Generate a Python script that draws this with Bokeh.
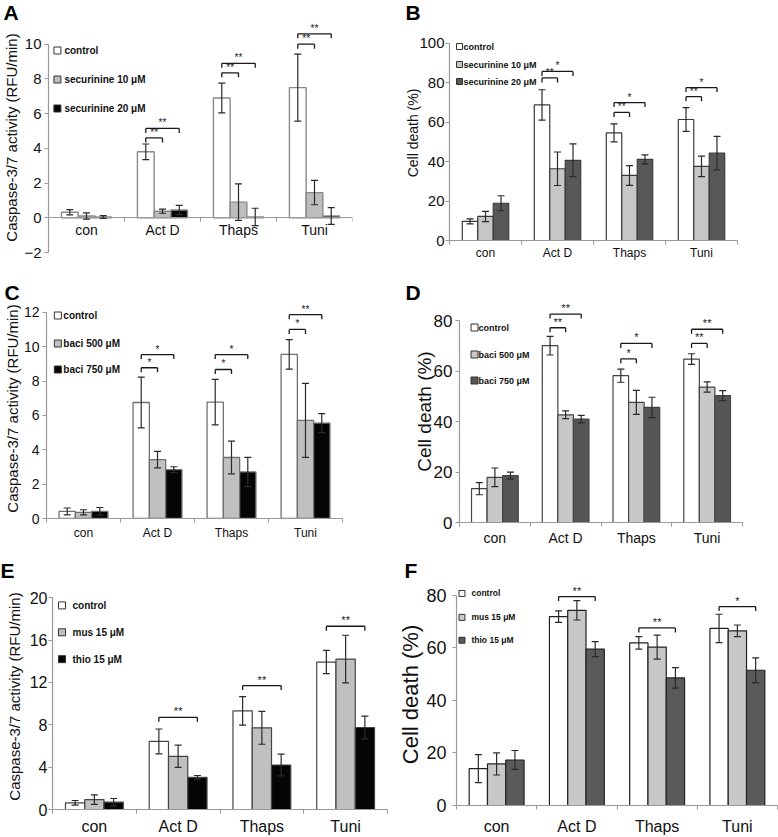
from bokeh.plotting import figure
from bokeh.models import Range1d, FixedTicker, Whisker, TeeHead, ColumnDataSource, Title
from bokeh.layouts import column, row
from bokeh.embed import file_html
from bokeh.resources import INLINE
from bokeh.core.properties import value

FONT = "Liberation Sans"

# ---------------- data ----------------
groups = ["con", "Act D", "Thaps", "Tuni"]

# Panel A : caspase-3/7, securinine
a_names = ["control", "securinine 10 μM", "securinine 20 μM"]
a_control = [0.32, 3.80, 6.90, 7.50]
a_control_err = [0.15, 0.45, 0.86, 1.93]
a_sec10 = [0.10, 0.38, 0.90, 1.45]
a_sec10_err = [0.18, 0.12, 1.05, 0.70]
a_sec20 = [0.05, 0.45, 0.05, 0.10]
a_sec20_err = [0.08, 0.27, 0.50, 0.48]
a_brackets = [(1, 1, 4.60, "**"), (1, 2, 5.15, "**"), (2, 1, 8.35, "**"),
              (2, 2, 8.90, "**"), (3, 1, 10.0, "**"), (3, 2, 10.6, "**")]
a_yticks = [-2, 0, 2, 4, 6, 8, 10]

# Panel B : cell death, securinine
b_names = ["control", "securinine 10 μM", "securinine 20 μM"]
b_control = [9.7, 68.8, 54.6, 61.4]
b_control_err = [1.3, 7.7, 4.6, 6.0]
b_sec10 = [12.2, 36.4, 33.0, 37.6]
b_sec10_err = [2.6, 8.5, 5.0, 5.2]
b_sec20 = [18.9, 40.7, 41.2, 44.3]
b_sec20_err = [3.8, 8.3, 2.3, 8.5]
b_brackets = [(1, 1, 82.5, "**"), (1, 2, 85.8, "*"), (2, 1, 65.0, "**"),
              (2, 2, 70.0, "*"), (3, 1, 73.0, "**"), (3, 2, 77.6, "*")]
b_yticks = [0, 20, 40, 60, 80, 100]

# Panel C : caspase-3/7, baci
c_names = ["control", "baci 500 μM", "baci 750 μM"]
c_control = [0.41, 6.75, 6.77, 9.55]
c_control_err = [0.20, 1.48, 1.32, 0.86]
c_baci500 = [0.36, 3.43, 3.55, 5.71]
c_baci500_err = [0.15, 0.48, 0.95, 2.15]
c_baci750 = [0.42, 2.84, 2.71, 5.55]
c_baci750_err = [0.22, 0.17, 0.85, 0.55]
c_brackets = [(1, 1, 8.77, "*"), (1, 2, 9.54, "*"), (2, 1, 8.67, "*"),
              (2, 2, 9.54, "*"), (3, 1, 11.0, "*"), (3, 2, 11.86, "**")]
c_yticks = [0, 2, 4, 6, 8, 10, 12]

# Panel D : cell death, baci
d_names = ["control", "baci 500 μM", "baci 750 μM"]
d_control = [13.4, 70.1, 58.2, 64.8]
d_control_err = [2.4, 3.7, 2.6, 2.1]
d_baci500 = [17.9, 42.7, 47.6, 53.7]
d_baci500_err = [3.7, 1.55, 4.75, 2.05]
d_baci750 = [18.6, 41.0, 45.6, 50.3]
d_baci750_err = [1.4, 1.5, 4.05, 1.95]
d_brackets = [(1, 1, 77.2, "**"), (1, 2, 82.6, "**"), (2, 1, 64.9, "*"),
              (2, 2, 71.0, "*"), (3, 1, 71.0, "**"), (3, 2, 76.6, "**")]
d_yticks = [0, 20, 40, 60, 80]

# Panel E : caspase-3/7, mus / thio
e_names = ["control", "mus 15 μM", "thio 15 μM"]
e_control = [0.63, 6.43, 9.31, 13.92]
e_control_err = [0.22, 1.17, 1.35, 1.10]
e_mus = [0.94, 5.02, 7.71, 14.2]
e_mus_err = [0.45, 1.05, 1.55, 2.25]
e_thio = [0.69, 3.04, 4.20, 7.74]
e_thio_err = [0.35, 0.17, 1.02, 1.07]
e_brackets = [(1, 2, 8.7, "**"), (2, 2, 11.7, "**"), (3, 2, 17.3, "**")]
e_yticks = [0, 4, 8, 12, 16, 20]

# Panel F : cell death, mus / thio
f_names = ["control", "mus 15 μM", "thio 15 μM"]
f_control = [14.0, 71.8, 61.8, 67.3]
f_control_err = [5.3, 2.2, 2.35, 5.4]
f_mus = [15.8, 74.2, 60.2, 66.4]
f_mus_err = [4.2, 3.7, 4.55, 2.2]
f_thio = [17.3, 59.4, 48.5, 51.4]
f_thio_err = [3.6, 2.85, 3.9, 4.7]
f_brackets = [(1, 2, 79.4, "**"), (2, 2, 67.5, "**"), (3, 2, 75.6, "*")]
f_yticks = [0, 20, 40, 60, 80]

CASP = "Caspase-3/7 activity (RFU/min)"
DEATH = "Cell death (%)"

# ---------------- layout / styling (page pixel coordinates) ----------------
panels = [
    dict(letter="A", box=(0, 0, 395, 280), frame=(45, 352, 22, 252), yr=(-2, 11.25),
         ybounds=(-2, 10), yticks=a_yticks, names=a_names,
         vals=[a_control, a_sec10, a_sec20], errs=[a_control_err, a_sec10_err, a_sec20_err],
         fills=["white", "#bdbdbd", "#050505"], outline="#8a8a8a", olw=1.4, w=0.22,
         brackets=a_brackets, xfix=0, ytick_fs=15, ytick_so=3, cat_fs=14, cat_so=0,
         ylabel=CASP, ylab_fs=15, ylab_so=1, leg_fs=10, sq=7,
         leg=(54, 61, [50, 79, 108]), star_fs=10, letter_pos=(0, 0)),
    dict(letter="B", box=(395, 0, 778, 280), frame=(449, 737, 39, 240), yr=(0, 102),
         ybounds=(0, 100), yticks=b_yticks, names=b_names,
         vals=[b_control, b_sec10, b_sec20], errs=[b_control_err, b_sec10_err, b_sec20_err],
         fills=["white", "#c6c6c6", "#585858"], outline="#3a3a3a", olw=1.2, w=0.215,
         brackets=b_brackets, xfix=None, ytick_fs=15, ytick_so=1, cat_fs=12, cat_so=1,
         ylabel=DEATH, ylab_fs=14, ylab_so=-5, leg_fs=9, sq=6,
         leg=(459, 463, [46, 64, 81]), star_fs=10, letter_pos=(405, 0)),
    dict(letter="C", box=(0, 280, 395, 558), frame=(42, 342, 298, 518), yr=(0, 12.8),
         ybounds=(0, 12), yticks=c_yticks, names=c_names,
         vals=[c_control, c_baci500, c_baci750], errs=[c_control_err, c_baci500_err, c_baci750_err],
         fills=["white", "#c0c0c0", "#050505"], outline="#707070", olw=1.3, w=0.22,
         brackets=c_brackets, xfix=None, ytick_fs=14, ytick_so=3, cat_fs=12, cat_so=3,
         ylabel=CASP, ylab_fs=15, ylab_so=0, leg_fs=10, sq=7,
         leg=(53.5, 59, [315, 343, 369]), star_fs=10, letter_pos=(0, 280)),
    dict(letter="D", box=(395, 280, 778, 558), frame=(459, 742, 300, 522), yr=(0, 88),
         ybounds=(0, 80), yticks=d_yticks, names=d_names,
         vals=[d_control, d_baci500, d_baci750], errs=[d_control_err, d_baci500_err, d_baci750_err],
         fills=["white", "#c8c8c8", "#555555"], outline="#444444", olw=1.2, w=0.22,
         brackets=d_brackets, xfix=None, ytick_fs=17, ytick_so=3, cat_fs=14, cat_so=3,
         ylabel=DEATH, ylab_fs=19, ylab_so=-4, leg_fs=9, sq=7,
         leg=(474, 478, [327, 354, 380]), star_fs=11, letter_pos=(405, 280)),
    dict(letter="E", box=(0, 558, 395, 837), frame=(52, 387, 594, 810), yr=(0, 20.3),
         ybounds=(0, 20), yticks=e_yticks, names=e_names,
         vals=[e_control, e_mus, e_thio], errs=[e_control_err, e_mus_err, e_thio_err],
         fills=["white", "#c0c0c0", "#050505"], outline="#444444", olw=1.2, w=0.23,
         brackets=e_brackets, xfix=None, ytick_fs=16, ytick_so=1, cat_fs=16, cat_so=4,
         ylabel=CASP, ylab_fs=15, ylab_so=4, leg_fs=10, sq=7,
         leg=(61.5, 72, [605, 632, 659]), star_fs=11, letter_pos=(0, 558)),
    dict(letter="F", box=(395, 558, 778, 837), frame=(455, 777, 584, 806), yr=(0, 84),
         ybounds=(0, 80), yticks=f_yticks, names=f_names,
         vals=[f_control, f_mus, f_thio], errs=[f_control_err, f_mus_err, f_thio_err],
         fills=["white", "#c8c8c8", "#5a5a5a"], outline="#222222", olw=1.2, w=0.228,
         brackets=f_brackets, xfix=None, ytick_fs=18, ytick_so=6, cat_fs=16, cat_so=8,
         ylabel=DEATH, ylab_fs=22, ylab_so=0, leg_fs=8.5, sq=6,
         leg=(460.5, 470, [593, 617, 640]), star_fs=11, letter_pos=(403, 558)),
]

AXIS_COL = "#9a9a9a"
ERR_COL = "#2a2a2a"
LETTER_H = 23.5  # approx. text box height of a 21px bold letter
LETTER_MAX_GAP = 25  # the letter title can reach at most this far above the frame


def make_panel(c):
    bx0, by0, bx1, by1 = c["box"]
    L, R, T0, B = c["frame"]
    y0, y1_0 = c["yr"]
    pxu = (B - T0) / (y1_0 - y0)  # pixels per y unit
    lx_pos, ltop = c["letter_pos"]
    # extend the (empty) top of the frame so the panel letter can sit at the top
    T = min(T0, ltop + LETTER_MAX_GAP)
    y1 = y1_0 + (T0 - T) / pxu
    n = len(groups)
    p = figure(width=bx1 - bx0, height=by1 - by0, output_backend="svg", toolbar_location=None,
               x_range=Range1d(0, n), y_range=Range1d(y0, y1),
               min_border_left=L - bx0, min_border_right=bx1 - R,
               min_border_top=T - by0, min_border_bottom=by1 - B)
    try:
        p.frame_align = False
    except Exception:
        pass
    p.outline_line_color = None
    p.grid.visible = False
    p.border_fill_color = "white"
    p.background_fill_color = "white"

    # x axis
    xa = p.xaxis[0]
    xa.ticker = FixedTicker(ticks=[i + 0.5 for i in range(n)], minor_ticks=list(range(n + 1)))
    xa.major_label_overrides = {i + 0.5: g for i, g in enumerate(groups)}
    xa.major_tick_line_color = None
    xa.major_tick_out = 0
    xa.major_tick_in = 0
    xa.minor_tick_out = 4
    xa.minor_tick_in = 0
    xa.minor_tick_line_color = AXIS_COL
    xa.axis_line_color = AXIS_COL
    xa.axis_line_width = 1.2
    xa.bounds = (0, n)
    xa.major_label_text_font = FONT
    xa.major_label_text_font_size = f"{c['cat_fs']}px"
    xa.major_label_text_color = "#111111"
    xa.major_label_standoff = c["cat_so"]
    if c["xfix"] is not None:
        xa.fixed_location = c["xfix"]

    # y axis
    ya = p.yaxis[0]
    ya.ticker = FixedTicker(ticks=c["yticks"])
    ya.bounds = c["ybounds"]
    ya.axis_line_color = AXIS_COL
    ya.axis_line_width = 1.2
    ya.major_tick_line_color = AXIS_COL
    ya.major_tick_out = 4
    ya.major_tick_in = 0
    ya.minor_tick_line_color = None
    ya.major_label_text_font = FONT
    ya.major_label_text_font_size = f"{c['ytick_fs']}px"
    ya.major_label_text_color = "#111111"
    ya.major_label_standoff = c["ytick_so"]
    ya.axis_label = c["ylabel"]
    ya.axis_label_text_font = FONT
    ya.axis_label_text_font_style = "normal"
    ya.axis_label_text_font_size = f"{c['ylab_fs']}px"
    ya.axis_label_text_color = "#111111"
    ya.axis_label_standoff = c["ylab_so"]

    # bars + error bars
    w = c["w"]
    for j, (vals, errs, fill) in enumerate(zip(c["vals"], c["errs"], c["fills"])):
        xs = [i + 0.5 + (j - 1) * w for i in range(n)]
        src = ColumnDataSource(dict(
            x=xs, top=vals,
            upper=[v + e for v, e in zip(vals, errs)],
            lower=[v - e for v, e in zip(vals, errs)]))
        p.vbar(x="x", top="top", bottom=0, width=w, source=src,
               fill_color=fill, line_color=c["outline"], line_width=c["olw"])
        wh = Whisker(source=src, base="x", upper="upper", lower="lower", dimension="height",
                     line_color=ERR_COL, line_width=1.2, level="overlay",
                     upper_head=TeeHead(size=7, line_color=ERR_COL, line_width=1.2),
                     lower_head=TeeHead(size=7, line_color=ERR_COL, line_width=1.2))
        p.add_layout(wh)

    # significance brackets
    drop = 4.5 / pxu
    sx0, sy0, sx1, sy1, tx, ty, tt = [], [], [], [], [], [], []
    for g, s, yb, lab in c["brackets"]:
        xa_ = g + 0.5 - w
        xb_ = g + 0.5 + (s - 1) * w
        sx0 += [xa_, xa_, xb_]
        sx1 += [xb_, xa_, xb_]
        sy0 += [yb, yb, yb]
        sy1 += [yb, yb - drop, yb - drop]
        tx.append((xa_ + xb_) / 2)
        ty.append(yb)
        tt.append(lab)
    p.segment(x0=sx0, y0=sy0, x1=sx1, y1=sy1, line_color="#1a1a1a", line_width=1.3)
    p.text(x=tx, y=ty, text=tt, text_align="center", text_baseline="bottom",
           text_font=value(FONT), text_font_size=f"{c['star_fs']}px", text_color="#1a1a1a")

    # legend (square + label, placed from page pixel positions)
    sqx, txx, ys = c["leg"]
    lx = [(sqx - L) / (R - L) * n] * len(ys)
    ly = [y0 + (B - yy) / pxu for yy in ys]
    p.scatter(x=lx, y=ly, marker="square", size=c["sq"], fill_color=c["fills"],
              line_color="#333333", line_width=1)
    p.text(x=lx, y=ly, text=c["names"], x_offset=txx - sqx, text_align="left",
           text_baseline="middle", text_font=value(FONT), text_font_style="bold",
           text_font_size=f"{c['leg_fs']}px", text_color="#111111")

    # panel letter as a left-aligned title above the frame
    D = T - ltop
    s = int(round(2 * (D - 2 - LETTER_H)))
    t = Title(text=c["letter"], align="left", vertical_align="top", offset=lx_pos - L,
              standoff=s, text_font=FONT, text_font_style="bold", text_font_size="21px",
              text_color="black")
    p.add_layout(t, "above")
    return p


figs = [make_panel(c) for c in panels]
layout = column(row(figs[0], figs[1]), row(figs[2], figs[3]), row(figs[4], figs[5]))

open("out.html", "w").write(file_html(layout, INLINE))
